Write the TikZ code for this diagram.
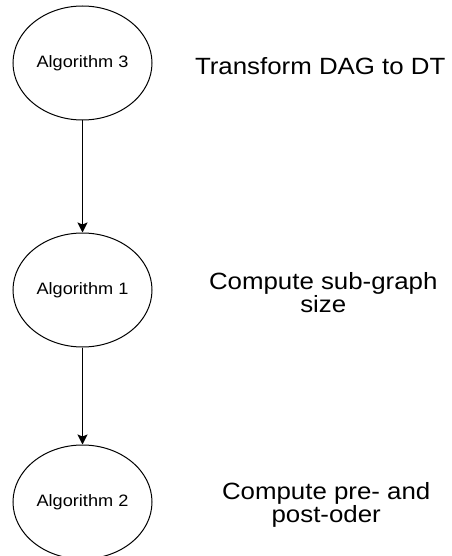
\documentclass[tikz,border=0pt]{standalone}
\usepackage{fontspec}
\setmainfont{Liberation Sans}[FakeStretch=1.1]
\usetikzlibrary{positioning,shapes.geometric,arrows.meta}

\begin{document}
\begin{tikzpicture}[x=1pt, y=1pt,
        alg/.style = {draw, ellipse, line width=1pt, inner sep=0pt,
            minimum width=139pt, minimum height=114pt,
            font=\fontsize{16.5}{18}\selectfont},
        desc/.style = {align=center, yshift=-3pt, font=\fontsize{23.5}{23}\selectfont},
        flow/.style = {line width=1.3pt, -{Stealth[length=10pt,width=10pt,inset=2pt]}}]
        \useasboundingbox (0,0) rectangle (451,-556);

        % the three steps, top to bottom
        \node[alg](alg3) at (82.5,-63) {Algorithm 3};
        \node[alg](alg1)[below = 112pt of alg3]{Algorithm 1};
        \node[alg](alg2)[below = 97pt of alg1]{Algorithm 2};

        % what each step does
        \node[desc](desc3)[right = 39pt of alg3]{Transform DAG to DT};
        \node[desc](desc1)[right = 53pt of alg1]{Compute sub-graph\\size};
        \node[desc](desc2)[right = 66pt of alg2]{Compute pre- and\\post-oder};

        \draw[flow] (alg3) -- (alg1);
        \draw[flow] (alg1) -- (alg2);
    \end{tikzpicture}
\end{document}
